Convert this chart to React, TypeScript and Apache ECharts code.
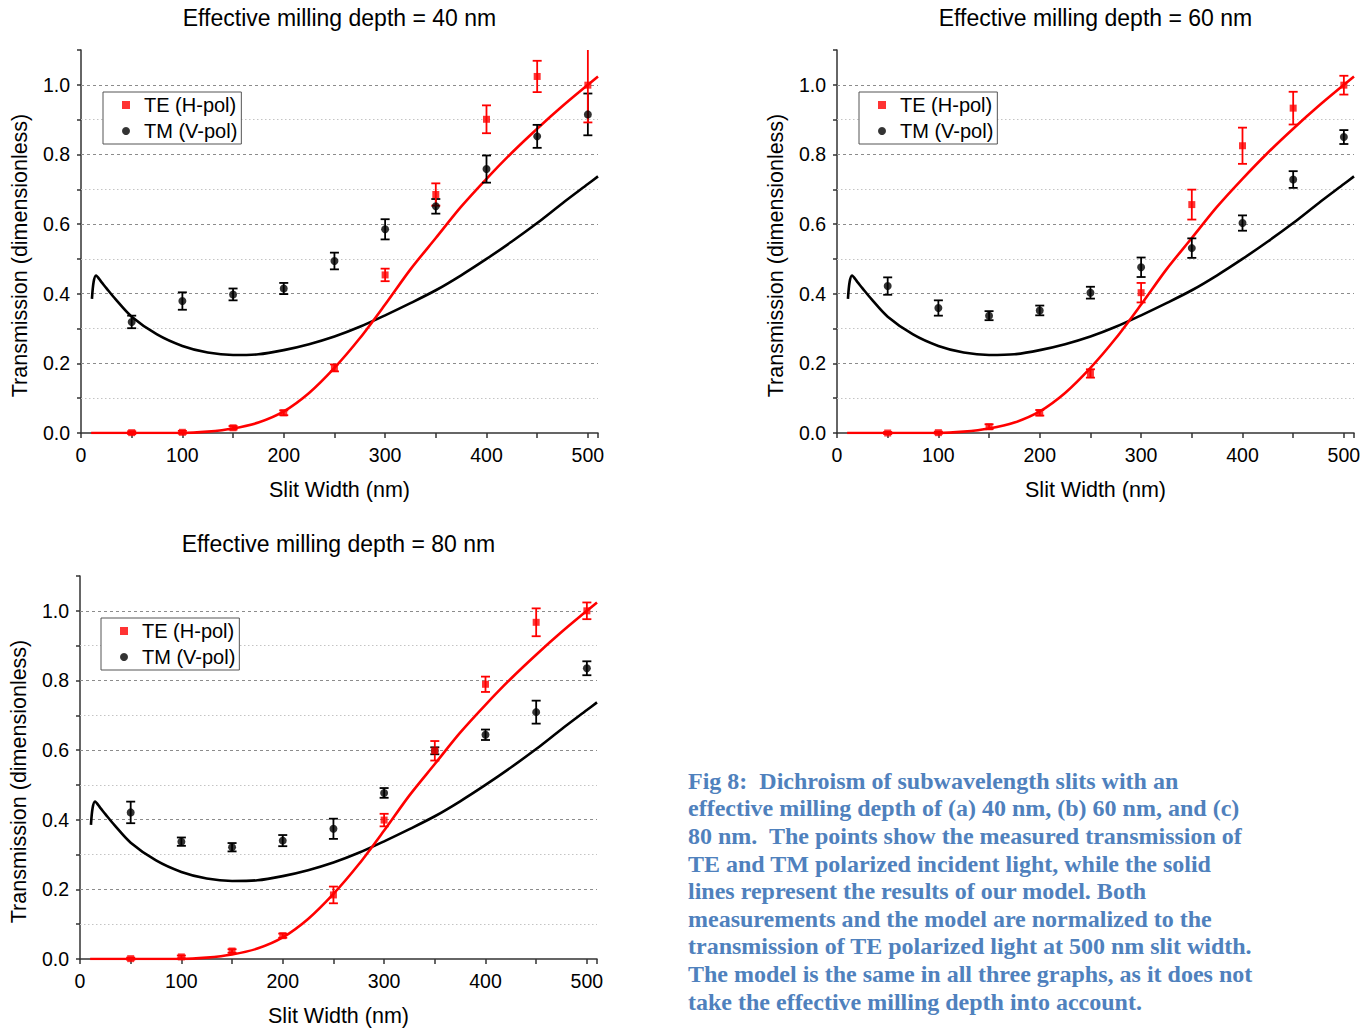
import React, { useEffect, useRef } from "react";
import * as echarts from "echarts";

// ---------- data ----------
const SLIT_WIDTHS = [50, 100, 150, 200, 250, 300, 350, 400, 450, 500];

const TE_40 = [0.001, 0.002, 0.015, 0.058, 0.187, 0.454, 0.685, 0.901, 1.024, 0.999];
const TE_40_ERR = [0.004, 0.004, 0.005, 0.007, 0.01, 0.018, 0.032, 0.04, 0.045, 0.107];
const TM_40 = [0.319, 0.379, 0.398, 0.415, 0.494, 0.585, 0.651, 0.758, 0.852, 0.915];
const TM_40_ERR = [0.018, 0.025, 0.017, 0.016, 0.024, 0.029, 0.021, 0.039, 0.033, 0.06];

const TE_60 = [0.0, 0.001, 0.018, 0.058, 0.171, 0.403, 0.656, 0.825, 0.933, 0.999];
const TE_60_ERR = [0.003, 0.003, 0.007, 0.008, 0.012, 0.028, 0.043, 0.052, 0.047, 0.027];
const TM_60 = [0.422, 0.359, 0.337, 0.352, 0.403, 0.476, 0.531, 0.603, 0.728, 0.85];
const TM_60_ERR = [0.025, 0.022, 0.013, 0.014, 0.017, 0.028, 0.028, 0.022, 0.024, 0.02];

const TE_80 = [0.001, 0.006, 0.023, 0.067, 0.184, 0.399, 0.598, 0.789, 0.967, 1.0];
const TE_80_ERR = [0.003, 0.004, 0.005, 0.006, 0.024, 0.018, 0.028, 0.022, 0.04, 0.024];
const TM_80 = [0.421, 0.337, 0.321, 0.34, 0.374, 0.477, 0.598, 0.644, 0.709, 0.835];
const TM_80_ERR = [0.031, 0.012, 0.012, 0.016, 0.029, 0.014, 0.01, 0.015, 0.033, 0.02];

const MODEL_TE_X = [10, 50, 100, 125, 150, 175, 200, 225, 250, 275, 300, 325, 350, 375, 400, 425, 450, 475, 500, 510];
const MODEL_TE_Y = [0, 0, 0, 0.004, 0.013, 0.03, 0.062, 0.115, 0.187, 0.272, 0.369, 0.47, 0.56, 0.65, 0.73, 0.805, 0.874, 0.939, 1.0, 1.024];

const MODEL_TM_X = [10.8, 12.4, 14.8, 20, 25, 33.8, 50, 75, 100, 125, 150, 175, 200, 225, 250, 275, 300, 325, 350, 375, 400, 425, 450, 475, 500, 510];
const MODEL_TM_Y = [0.385, 0.433, 0.452, 0.434, 0.416, 0.385, 0.334, 0.283, 0.25, 0.231, 0.224, 0.226, 0.238, 0.255, 0.277, 0.305, 0.338, 0.373, 0.41, 0.453, 0.5, 0.55, 0.603, 0.66, 0.715, 0.737];

const TITLES = ["Effective milling depth = 40 nm", "Effective milling depth = 60 nm", "Effective milling depth = 80 nm"];
const TE_SETS = [TE_40, TE_60, TE_80];
const TE_ERR_SETS = [TE_40_ERR, TE_60_ERR, TE_80_ERR];
const TM_SETS = [TM_40, TM_60, TM_80];
const TM_ERR_SETS = [TM_40_ERR, TM_60_ERR, TM_80_ERR];

const Y_GRID_MAJOR = [0.2, 0.4, 0.6, 0.8, 1.0];
const Y_GRID_MINOR = [0.1, 0.3, 0.5, 0.7, 0.9];

const X_LABEL = "Slit Width (nm)";
const Y_LABEL = "Transmission (dimensionless)";
const TE_NAME = "TE (H-pol)";
const TM_NAME = "TM (V-pol)";

const CAPTION = [
  "Fig 8:  Dichroism of subwavelength slits with an",
  "effective milling depth of (a) 40 nm, (b) 60 nm, and (c)",
  "80 nm.  The points show the measured transmission of",
  "TE and TM polarized incident light, while the solid",
  "lines represent the results of our model. Both",
  "measurements and the model are normalized to the",
  "transmission of TE polarized light at 500 nm slit width.",
  "The model is the same in all three graphs, as it does not",
  "take the effective milling depth into account.",
];

// ---------- layout ----------
const GRIDS = [
  { left: 81, top: 50, width: 517, height: 383 },
  { left: 837, top: 50, width: 517, height: 383 },
  { left: 80, top: 576, width: 517, height: 383 },
];
const LEGEND_POS = [
  { left: 103, top: 92 },
  { left: 859, top: 92 },
  { left: 101, top: 618 },
];
const TITLE_TOP = [6, 6, 532];

const FONT = "'Liberation Sans', Arial, sans-serif";
const RED = "#ff0000";
const BLACK = "#000000";

function errRender(color: string) {
  return (params: any, api: any) => {
    const x = api.value(0);
    const y = api.value(1);
    const e = api.value(2);
    const cs = params.coordSys;
    const t = api.coord([x, y + e]);
    const b = api.coord([x, y - e]);
    let topY = t[1];
    let clipped = false;
    if (topY < cs.y) {
      topY = cs.y;
      clipped = true;
    }
    const hw = 4.5;
    const style = { stroke: color, lineWidth: 1.8 };
    const children: any[] = [
      { type: "line", shape: { x1: t[0], y1: topY, x2: b[0], y2: b[1] }, style },
      { type: "line", shape: { x1: b[0] - hw, y1: b[1], x2: b[0] + hw, y2: b[1] }, style },
    ];
    if (!clipped) {
      children.push({ type: "line", shape: { x1: t[0] - hw, y1: topY, x2: t[0] + hw, y2: topY }, style });
    }
    return { type: "group", children };
  };
}

function buildOption() {
  const grid: any[] = [];
  const xAxis: any[] = [];
  const yAxis: any[] = [];
  const series: any[] = [];
  const legend: any[] = [];
  const title: any[] = [];

  const modelTE = MODEL_TE_X.map((x, i) => [x, MODEL_TE_Y[i]]);
  const modelTM = MODEL_TM_X.map((x, i) => [x, MODEL_TM_Y[i]]);

  for (let p = 0; p < 3; p++) {
    const g = GRIDS[p];
    grid.push({ ...g, containLabel: false });
    title.push({
      text: TITLES[p],
      left: g.left + g.width / 2,
      top: TITLE_TOP[p],
      textAlign: "center",
      padding: 0,
      textStyle: { fontFamily: FONT, fontSize: 23, fontWeight: "normal", color: "#000" },
    });
    xAxis.push({
      type: "value",
      gridIndex: p,
      min: 0,
      max: 510,
      interval: 100,
      name: X_LABEL,
      nameLocation: "middle",
      nameGap: 46,
      nameTextStyle: { fontFamily: FONT, fontSize: 21.5, color: "#000" },
      axisLine: { show: true, lineStyle: { color: "#333", width: 1.5 } },
      axisTick: { show: true, inside: false, length: 5, lineStyle: { color: "#333", width: 1.5 } },
      minorTick: { show: true, splitNumber: 2, length: 5, lineStyle: { color: "#333", width: 1.5 } },
      axisLabel: {
        margin: 12,
        fontFamily: FONT,
        fontSize: 19.5,
        color: "#000",
        formatter: (v: number) => (v <= 500 ? String(v) : ""),
      },
      splitLine: { show: false },
    });
    yAxis.push({
      type: "value",
      gridIndex: p,
      min: 0,
      max: 1.1,
      interval: 0.1,
      name: Y_LABEL,
      nameLocation: "middle",
      nameGap: 50,
      nameTextStyle: { fontFamily: FONT, fontSize: 21.5, color: "#000", padding: [0, 28, 0, 0] },
      axisLine: { show: true, lineStyle: { color: "#333", width: 1.5 } },
      axisTick: { show: true, inside: false, length: 4, lineStyle: { color: "#333", width: 1.5 } },
      axisLabel: {
        margin: 11,
        fontFamily: FONT,
        fontSize: 19.5,
        color: "#000",
        formatter: (v: number) => {
          const k = Math.round(v * 10);
          return k % 2 === 0 && k <= 10 ? v.toFixed(1) : "";
        },
      },
      splitLine: { show: false },
    });

    const gridLines = [
      ...Y_GRID_MAJOR.map((v) => ({ yAxis: v, lineStyle: { color: "#8c8c8c", type: [3, 3], width: 1 } })),
      ...Y_GRID_MINOR.map((v) => ({ yAxis: v, lineStyle: { color: "#c4c4c4", type: [1.5, 2.5], width: 1 } })),
    ];

    series.push({
      name: "model TM " + p,
      type: "line",
      xAxisIndex: p,
      yAxisIndex: p,
      data: modelTM,
      showSymbol: false,
      smooth: 0.3,
      lineStyle: { color: BLACK, width: 2.6 },
      z: 3,
      silent: true,
      markLine: {
        silent: true,
        symbol: "none",
        label: { show: false },
        z: 1,
        data: gridLines,
      },
    });
    series.push({
      name: "model TE " + p,
      type: "line",
      xAxisIndex: p,
      yAxisIndex: p,
      data: modelTE,
      showSymbol: false,
      smooth: 0.3,
      lineStyle: { color: RED, width: 2.6 },
      z: 3,
      silent: true,
    });

    const te = TE_SETS[p];
    const teErr = TE_ERR_SETS[p];
    const tm = TM_SETS[p];
    const tmErr = TM_ERR_SETS[p];

    series.push({
      name: "TM err " + p,
      type: "custom",
      xAxisIndex: p,
      yAxisIndex: p,
      renderItem: errRender(BLACK),
      data: SLIT_WIDTHS.map((x, i) => [x, tm[i], tmErr[i]]),
      encode: { x: 0, y: 1 },
      z: 4,
      silent: true,
    });
    series.push({
      name: "TE err " + p,
      type: "custom",
      xAxisIndex: p,
      yAxisIndex: p,
      renderItem: errRender(RED),
      data: SLIT_WIDTHS.map((x, i) => [x, te[i], teErr[i]]),
      encode: { x: 0, y: 1 },
      z: 4,
      silent: true,
    });
    series.push({
      name: TM_NAME,
      type: "scatter",
      xAxisIndex: p,
      yAxisIndex: p,
      symbol: "circle",
      symbolSize: 8,
      itemStyle: { color: BLACK },
      data: SLIT_WIDTHS.map((x, i) => [x, tm[i]]),
      z: 5,
    });
    series.push({
      name: TE_NAME,
      type: "scatter",
      xAxisIndex: p,
      yAxisIndex: p,
      symbol: "rect",
      symbolSize: 7,
      itemStyle: { color: RED },
      data: SLIT_WIDTHS.map((x, i) => [x, te[i]]),
      z: 5,
    });

    legend.push({
      ...LEGEND_POS[p],
      orient: "vertical",
      data: [
        { name: TE_NAME, icon: "rect" },
        { name: TM_NAME, icon: "circle" },
      ],
      itemWidth: 8,
      itemHeight: 8,
      itemGap: 6,
      padding: [3, 4, 3, 19],
      borderColor: "#555",
      borderWidth: 1,
      backgroundColor: "#fff",
      selectedMode: false,
      textStyle: { fontFamily: FONT, fontSize: 20, color: "#000", padding: [0, 0, 0, 9], lineHeight: 19 },
    });
  }

  return {
    animation: false,
    backgroundColor: "#fff",
    title,
    grid,
    xAxis,
    yAxis,
    legend,
    series,
    graphic: [
      {
        type: "text",
        left: 688,
        top: 767,
        style: {
          text: CAPTION.join("\n"),
          font: "bold 24px 'Liberation Serif', 'Times New Roman', serif",
          lineHeight: 27.6,
          fill: "#4f81bd",
        },
      },
    ],
  };
}

export default function App() {
  const ref = useRef<HTMLDivElement>(null);
  useEffect(() => {
    document.body.style.margin = "0";
    if (!ref.current) return;
    const chart = echarts.init(ref.current, undefined, { renderer: "svg" });
    chart.setOption(buildOption() as any);
    return () => chart.dispose();
  }, []);
  return <div ref={ref} style={{ width: 1372, height: 1028 }} />;
}
